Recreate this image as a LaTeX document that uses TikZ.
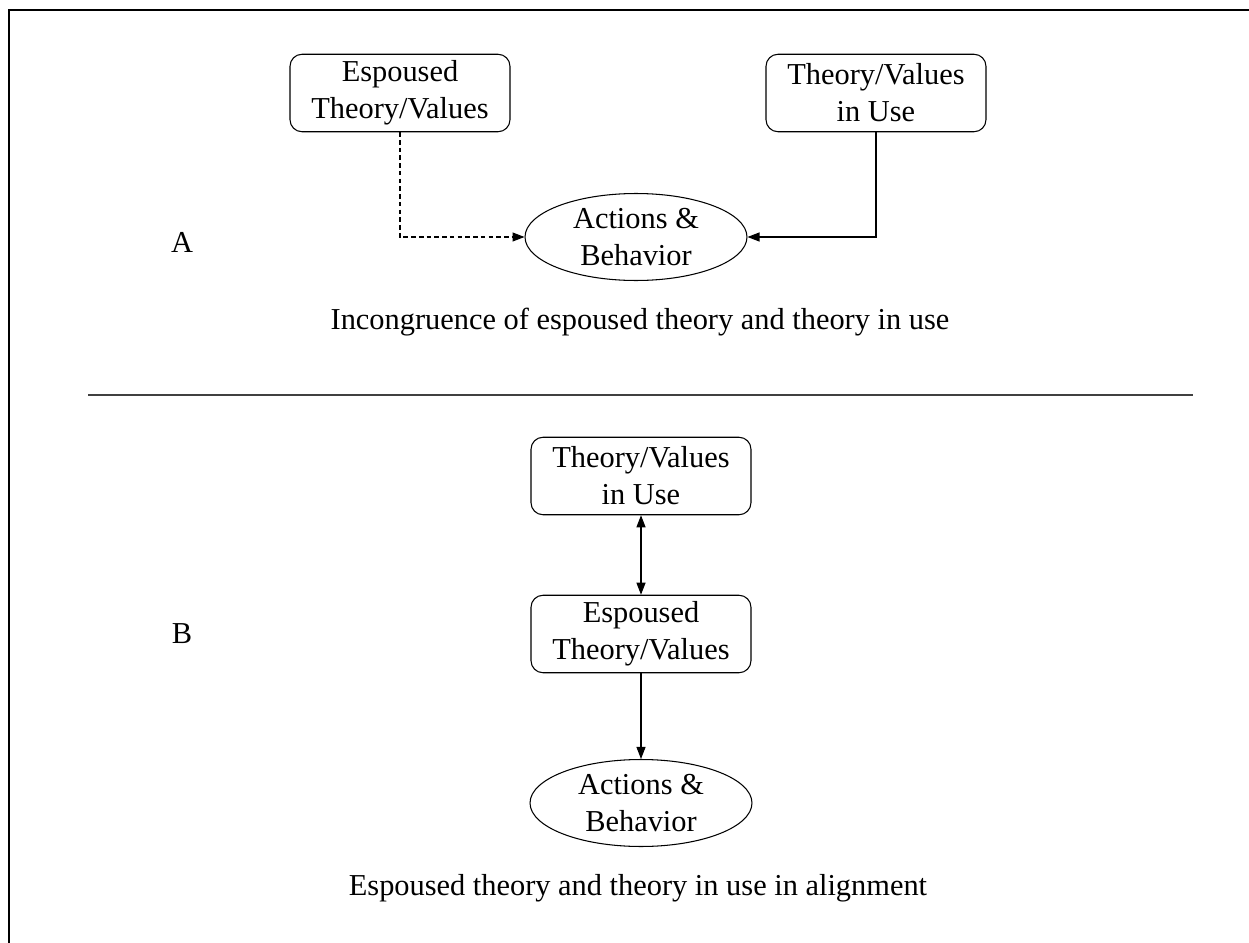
\documentclass[tikz,border=0pt]{standalone}
\usepackage{fontspec}
\setmainfont{Liberation Serif}
\usetikzlibrary{shapes.geometric,arrows.meta}
\tikzstyle{every node}=[font=\fontsize{17.3}{21}\selectfont, align=center]
\tikzstyle{valuebox}=[draw, rounded corners=0.24cm, line width=0.6pt, minimum width=4.4cm, minimum height=1.55cm, inner sep=0pt]
\tikzstyle{actionblob}=[draw, ellipse, line width=0.6pt, minimum width=4.44cm, minimum height=1.74cm, inner sep=0pt]
\tikzstyle{link}=[line width=0.6pt, -{Triangle[length=2.4mm,width=1.8mm]}]

\begin{document}
\begin{tikzpicture}[x=0.02cm, y=-0.02cm]
\useasboundingbox (0,0) rectangle (1249,943);
% Frame
    \draw[line width=1.2pt] (9,943) -- (9,10) -- (1249,10);
% Part A
    \node[valuebox] (espA) at (400,93) {Espoused\\Theory/Values};
    \node[valuebox] (useA) at (876,93) {Theory/Values\\in Use};
    \node[actionblob] (actA) at (636,237) {Actions \&\\Behavior};
    \node (labA) at (182,242) {A};
    \node (capA) at (640,322) {Incongruence of espoused theory and theory in use};
    \draw[link, dash pattern=on 2.6pt off 1.8pt] (espA.south) |- (actA.west);
    \draw[link] (useA.south) |- (actA.east);
% Divider
    \draw[line width=1pt, black!75] (88,395) -- (1193,395);
% Part B
    \node[valuebox] (useB) at (641,476) {Theory/Values\\in Use};
    \node[valuebox] (espB) at (641,634) {Espoused\\Theory/Values};
    \node[actionblob] (actB) at (641,803) {Actions \&\\Behavior};
    \node (labB) at (182,634) {B};
    \node (capB) at (638,888) {Espoused theory and theory in use in alignment};
    \draw[link, {Triangle[length=2.4mm,width=1.8mm]}-{Triangle[length=2.4mm,width=1.8mm]}] (useB) -- (espB);
    \draw[link] (espB) -- (actB);
\end{tikzpicture}
\end{document}
